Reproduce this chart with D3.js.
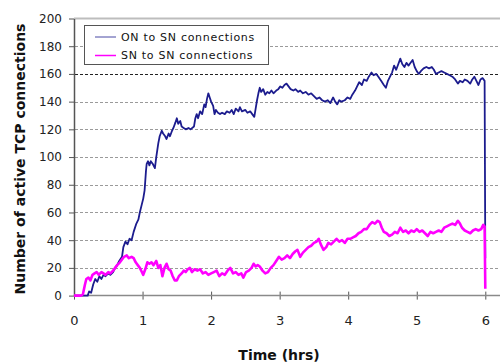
<!DOCTYPE html>
<html>
<head>
<meta charset="utf-8">
<script src="https://cdn.jsdelivr.net/npm/d3@7/dist/d3.min.js"></script>
<style>
  html, body { margin: 0; padding: 0; background: #fff; }
  svg { display: block; }
</style>
</head>
<body>
<svg id="chart" width="500" height="362"></svg>
<script>
// Active TCP connections over a six-hour run, sampled in hours.
const onHours = [0,0.1,0.2,0.22,0.25,0.28,0.31,0.34,0.37,0.4,0.43,0.46,0.5,0.53,0.57,0.6,0.63,0.66,0.7,0.72,0.75,0.78,0.81,0.84,0.87,0.91,0.94,0.96,0.99,1.01,1.03,1.05,1.06,1.08,1.1,1.12,1.15,1.18,1.2,1.23,1.25,1.28,1.3,1.33,1.35,1.38,1.4,1.43,1.45,1.48,1.5,1.52,1.55,1.57,1.6,1.63,1.67,1.7,1.75,1.77,1.79,1.81,1.84,1.87,1.9,1.92,1.94,1.96,1.98,2.0,2.03,2.05,2.07,2.1,2.13,2.16,2.2,2.23,2.27,2.3,2.33,2.36,2.4,2.42,2.45,2.5,2.53,2.57,2.6,2.63,2.65,2.67,2.69,2.71,2.73,2.76,2.79,2.82,2.85,2.88,2.91,2.95,2.98,3.01,3.04,3.07,3.1,3.13,3.16,3.2,3.23,3.27,3.3,3.34,3.38,3.42,3.46,3.5,3.54,3.58,3.62,3.66,3.7,3.74,3.78,3.81,3.84,3.87,3.9,3.95,3.99,4.03,4.06,4.1,4.13,4.16,4.2,4.23,4.27,4.3,4.34,4.37,4.41,4.44,4.48,4.52,4.55,4.58,4.61,4.64,4.67,4.7,4.73,4.76,4.79,4.82,4.85,4.88,4.91,4.94,4.97,5.0,5.03,5.06,5.1,5.14,5.18,5.22,5.25,5.28,5.32,5.36,5.4,5.44,5.48,5.52,5.56,5.6,5.63,5.67,5.7,5.74,5.78,5.81,5.84,5.87,5.9,5.93,5.96,5.99,6.0];
const onValues = [0,0,0,3,2,8,12,10,14,12,15,14,16,15,17,20,22,25,28,35,39,37,41,40,46,52,55,60,66,70,76,90,95,97,94,97,95,92,100,110,115,119,117,115,113,117,115,119,121,125,128,124,126,122,121,120,121,120,122,128,131,128,133,131,138,136,142,146,143,140,137,131,134,132,131,132,131,133,132,134,131,135,133,136,133,134,132,133,131,129,135,141,146,150,147,149,145,147,146,148,146,148,149,151,150,152,153,151,149,148,149,147,148,146,147,145,146,144,142,143,141,140,141,139,143,140,138,141,140,141,143,142,145,148,151,154,152,156,155,158,161,159,160,158,155,152,150,155,158,161,166,163,167,171,167,165,168,166,168,170,165,162,160,162,164,165,164,165,163,160,161,162,161,160,159,158,156,153,155,154,156,155,153,156,158,155,152,156,157,155,27];

const snHours = [0,0.1,0.13,0.16,0.18,0.21,0.24,0.27,0.3,0.33,0.36,0.4,0.43,0.46,0.5,0.53,0.57,0.6,0.63,0.67,0.7,0.73,0.77,0.8,0.84,0.87,0.9,0.93,0.96,0.99,1.01,1.04,1.07,1.1,1.13,1.16,1.2,1.23,1.26,1.29,1.32,1.35,1.38,1.41,1.44,1.47,1.5,1.53,1.57,1.6,1.63,1.66,1.69,1.72,1.76,1.8,1.84,1.88,1.92,1.96,2.0,2.04,2.08,2.12,2.16,2.2,2.24,2.28,2.32,2.36,2.4,2.44,2.47,2.51,2.55,2.59,2.62,2.65,2.68,2.71,2.75,2.79,2.83,2.87,2.91,2.95,2.99,3.03,3.07,3.11,3.15,3.19,3.23,3.26,3.3,3.34,3.38,3.42,3.46,3.5,3.54,3.57,3.6,3.64,3.68,3.71,3.75,3.79,3.83,3.87,3.91,3.95,3.99,4.03,4.07,4.11,4.15,4.19,4.23,4.27,4.31,4.35,4.39,4.43,4.46,4.49,4.52,4.56,4.6,4.64,4.68,4.72,4.76,4.8,4.84,4.88,4.92,4.96,5.0,5.04,5.08,5.12,5.16,5.2,5.24,5.28,5.32,5.36,5.4,5.44,5.48,5.52,5.56,5.6,5.63,5.66,5.7,5.74,5.78,5.82,5.86,5.9,5.94,5.97,5.99,6.0];
const snValues = [0,0,1,8,12,13,11,15,16,17,15,17,16,15,17,16,18,20,22,24,26,28,29,27,28,27,24,22,20,17,15,19,24,23,24,22,25,20,22,14,20,23,19,18,14,11,11,14,16,18,17,19,20,17,19,18,19,16,17,15,16,17,18,14,16,15,18,20,16,17,15,16,13,17,18,20,23,21,22,21,18,16,17,20,22,25,28,26,27,29,27,30,32,33,28,31,33,35,36,38,39,41,37,33,35,38,37,39,41,39,40,38,41,41,42,43,45,46,48,48,51,53,52,54,53,49,46,45,43,44,46,45,49,46,47,45,47,46,48,46,47,45,43,46,45,46,47,46,49,50,51,52,51,54,52,49,47,46,45,47,48,47,48,51,50,5];

const seriesNames = ["ON to SN connections", "SN to SN connections"];
const seriesColors = ["#1c1c8e", "#ff00ff"];
const yTicks = [0, 20, 40, 60, 80, 100, 120, 140, 160, 180, 200];
const xTicks = [0, 1, 2, 3, 4, 5, 6];
const yTitle = "Number of active TCP connections";
const xTitle = "Time (hrs)";

const svg = d3.select("#chart");
const plotLeft = 74, plotRight = 500, plotTop = 18.5, plotBottom = 295.6;

const x = d3.scaleLinear().domain([0, 6]).range([plotLeft, 485.3]);
const y = d3.scaleLinear().domain([0, 200]).range([plotBottom, plotTop]);

// horizontal dashed gridlines; the 160 level is drawn darker
svg.append("g")
  .selectAll("line")
  .data(yTicks.filter(d => d > 0 && d < 200))
  .join("line")
  .attr("x1", plotLeft + 1).attr("x2", plotRight)
  .attr("y1", d => Math.round(y(d)) + 0.5).attr("y2", d => Math.round(y(d)) + 0.5)
  .attr("stroke", d => d === 160 ? "#222" : "#9a9a9a")
  .attr("stroke-width", 1)
  .attr("stroke-dasharray", "3,2");

// top frame edge
svg.append("line")
  .attr("x1", plotLeft).attr("x2", plotRight)
  .attr("y1", plotTop).attr("y2", plotTop)
  .attr("stroke", "#bdbdbd").attr("stroke-width", 2);

// y axis
const yAxis = d3.axisLeft(y).tickValues(yTicks).tickSize(5).tickPadding(7).tickSizeOuter(0);
const gy = svg.append("g").attr("transform", `translate(${plotLeft},0)`).call(yAxis);
gy.select(".domain").attr("stroke", "#555").attr("stroke-width", 1.5);
gy.selectAll(".tick line").attr("stroke", "#555");
gy.selectAll(".tick text")
  .attr("font-family", "DejaVu Sans, Verdana, sans-serif")
  .attr("font-size", 12).attr("fill", "#222");

// x axis: ticks cross the baseline, line runs to the right edge
const xAxis = d3.axisBottom(x).tickValues(xTicks).tickFormat(d3.format("d"))
  .tickSize(4).tickPadding(16).tickSizeOuter(0);
const gx = svg.append("g").attr("transform", `translate(0,${plotBottom})`).call(xAxis);
gx.select(".domain").remove();
gx.append("line").attr("x1", plotLeft).attr("x2", plotRight).attr("y1", 0).attr("y2", 0)
  .attr("stroke", "#8a8a8a").attr("stroke-width", 1.5);
gx.selectAll(".tick line").attr("y1", -4).attr("y2", 4).attr("stroke", "#555");
gx.selectAll(".tick text")
  .attr("font-family", "DejaVu Sans, Verdana, sans-serif")
  .attr("font-size", 13).attr("fill", "#222");

// series lines
const line = d3.line().x(d => x(d[0])).y(d => y(d[1]));
const onData = d3.zip(onHours, onValues);
const snData = d3.zip(snHours, snValues);

svg.append("path").datum(onData)
  .attr("d", line).attr("fill", "none")
  .attr("stroke", seriesColors[0]).attr("stroke-width", 1.8)
  .attr("stroke-linejoin", "round");

svg.append("path").datum(snData)
  .attr("d", line).attr("fill", "none")
  .attr("stroke", seriesColors[1]).attr("stroke-width", 2.6)
  .attr("stroke-linejoin", "round");

// legend
const lg = svg.append("g");
lg.append("rect").attr("x", 84.5).attr("y", 25.5).attr("width", 184).attr("height", 39)
  .attr("fill", "#fff").attr("stroke", "#555").attr("stroke-width", 1);
seriesNames.forEach((name, i) => {
  const yy = 37 + i * 18.5;
  lg.append("line").attr("x1", 95).attr("x2", 116).attr("y1", yy).attr("y2", yy)
    .attr("stroke", seriesColors[i]).attr("stroke-width", i === 0 ? 1 : 1.5)
    .attr("opacity", i === 0 ? 0.8 : 1);
  lg.append("text").attr("x", 121).attr("y", yy + 3.5)
    .attr("font-family", "DejaVu Sans, Verdana, sans-serif")
    .attr("font-size", 11).attr("letter-spacing", 0.7).attr("fill", "#111")
    .text(name);
});

// axis titles
svg.append("text")
  .attr("transform", `translate(25,159) rotate(-90)`)
  .attr("text-anchor", "middle")
  .attr("font-family", "DejaVu Sans, Verdana, sans-serif")
  .attr("font-weight", "bold").attr("font-size", 14).attr("fill", "#111")
  .text(yTitle);

svg.append("text")
  .attr("x", 279).attr("y", 360)
  .attr("text-anchor", "middle")
  .attr("font-family", "DejaVu Sans, Verdana, sans-serif")
  .attr("font-weight", "bold").attr("font-size", 14).attr("fill", "#111")
  .text(xTitle);
</script>
</body>
</html>
